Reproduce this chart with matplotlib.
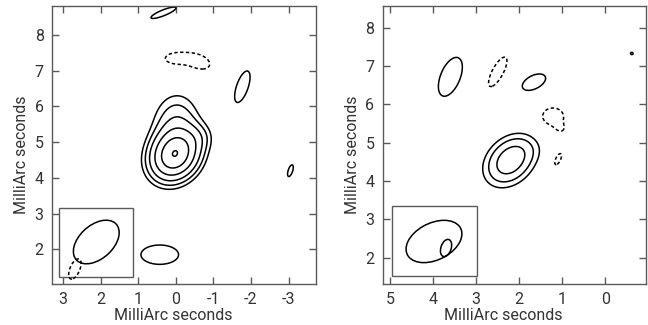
import numpy as np
import matplotlib.pyplot as plt
from matplotlib.patches import Ellipse, Rectangle

plt.rcParams.update({"font.family": ["Roboto", "DejaVu Sans"], "font.size": 11.5,
                     "axes.unicode_minus": False})

# contour levels (fraction of left peak); negatives drawn dashed
levels = [-0.08, 0.08, 0.14, 0.24, 0.42, 0.70, 1.04]

# left map: gaussian components (x0, y0, sigma major, sigma minor, angle deg, amplitude)
left_x0 = [0.03, 0.00, -0.62, 0.33, 0.02, -0.62, -1.77, -3.05, 0.43, 2.69]
left_y0 = [4.65, 5.55, 5.15, 8.62, 7.34, 7.24, 6.55, 4.20, 1.85, 1.45]
left_smaj = [0.45, 0.55, 0.25, 0.36, 0.30, 0.32, 0.46, 0.17, 0.50, 0.30]
left_smin = [0.37, 0.40, 0.25, 0.08, 0.16, 0.20, 0.155, 0.06, 0.27, 0.13]
left_pa = [120, 95, 0, 157, 0, 20, 108, 107, 0, 112]
left_amp = [1.0, 0.20, 0.08, 0.132, -0.115, -0.12, 0.132, 0.132, 0.132, -0.132]

# right map
right_x0 = [2.22, 1.85, 3.60, 2.50, 1.66, 1.22, 1.06, 1.10, -0.61]
right_y0 = [4.52, 4.85, 6.72, 6.85, 6.58, 5.68, 5.40, 4.57, 7.33]
right_smaj = [0.45, 0.30, 0.53, 0.42, 0.30, 0.26, 0.12, 0.16, 0.03]
right_smin = [0.33, 0.25, 0.23, 0.13, 0.17, 0.24, 0.08, 0.06, 0.03]
right_pa = [125, 0, 109, 115, 148, 0, 59, 112, 0]
right_amp = [0.33, 0.035, 0.132, -0.132, 0.132, -0.125, -0.08, -0.132, 0.132]

# restoring beams in the corner boxes (x, y, full major, full minor, angle)
left_beam = [(2.12, 2.205, 1.46, 0.92, 135)]
right_beam = [(3.98, 2.42, 1.42, 0.94, 147), (3.70, 2.25, 0.46, 0.24, 105)]
left_box = (1.13, 1.23, 1.98, 1.92)
right_box = (2.99, 1.52, 1.97, 1.83)

left_xticks = [3, 2, 1, 0, -1, -2, -3]
right_xticks = [5, 4, 3, 2, 1, 0]
yticks = [2, 3, 4, 5, 6, 7, 8]
left_lim = ((3.3, -3.73), (1.03, 8.81))
right_lim = ((5.17, -0.94), (1.31, 8.57))


def field(xs, ys, x0, y0, smaj, smin, pa, amp):
    X, Y = np.meshgrid(xs, ys)
    Z = np.zeros_like(X)
    for cx, cy, a, b, p, A in zip(x0, y0, smaj, smin, pa, amp):
        t = np.radians(p)
        u = (X - cx) * np.cos(t) + (Y - cy) * np.sin(t)
        v = -(X - cx) * np.sin(t) + (Y - cy) * np.cos(t)
        Z += A * np.exp(-(u**2 / (2 * a**2) + v**2 / (2 * b**2)))
    return X, Y, Z


GRAY = "#5a5a5a"
TXT = "#333333"
fig = plt.figure(figsize=(6.48, 3.25), dpi=100)
ax1 = fig.add_axes([0.0802, 0.1262, 0.4074, 0.8554])
ax2 = fig.add_axes([0.5906, 0.1262, 0.4063, 0.8554])

panels = [
    (ax1, (left_x0, left_y0, left_smaj, left_smin, left_pa, left_amp), left_beam, left_box, left_xticks, left_lim, 0.459),
    (ax2, (right_x0, right_y0, right_smaj, right_smin, right_pa, right_amp), right_beam, right_box, right_xticks, right_lim, 0.458),
]

for ax, comps, beams, box, xt, (xl, yl), lx in panels:
    xs = np.linspace(-4.5, 5.5, 700)
    ys = np.linspace(0.5, 9.5, 650)
    X, Y, Z = field(xs, ys, *comps)
    ax.contour(X, Y, Z, levels=levels, colors="black", linewidths=1.1,
               negative_linestyles=(0, (2.2, 1.6)))
    ax.add_patch(Rectangle(box[:2], box[2], box[3], fill=False, ec=GRAY, lw=1.0))
    for bx, by, w, h, ang in beams:
        ax.add_patch(Ellipse((bx, by), w, h, angle=ang, fill=False, ec="black", lw=1.1))
    ax.set_xlim(*xl)
    ax.set_ylim(*yl)
    ax.set_xticks(xt)
    ax.set_yticks(yticks)
    ax.tick_params(direction="in", top=True, right=True, length=5, width=1.0,
                   color=GRAY, labelcolor=TXT, labelsize=11.5)
    ax.tick_params(axis="x", pad=5.5)
    ax.tick_params(axis="y", pad=6)
    for s in ax.spines.values():
        s.set_color(GRAY)
        s.set_linewidth(1.0)
    ax.set_xlabel("MilliArc seconds", color=TXT, fontsize=11.5)
    ax.set_ylabel("MilliArc seconds", color=TXT, fontsize=11.5)
    ax.xaxis.set_label_coords(lx, -0.086)
    ax.yaxis.set_label_coords(-0.087, 0.464)

fig.savefig("out.png", dpi=100)
